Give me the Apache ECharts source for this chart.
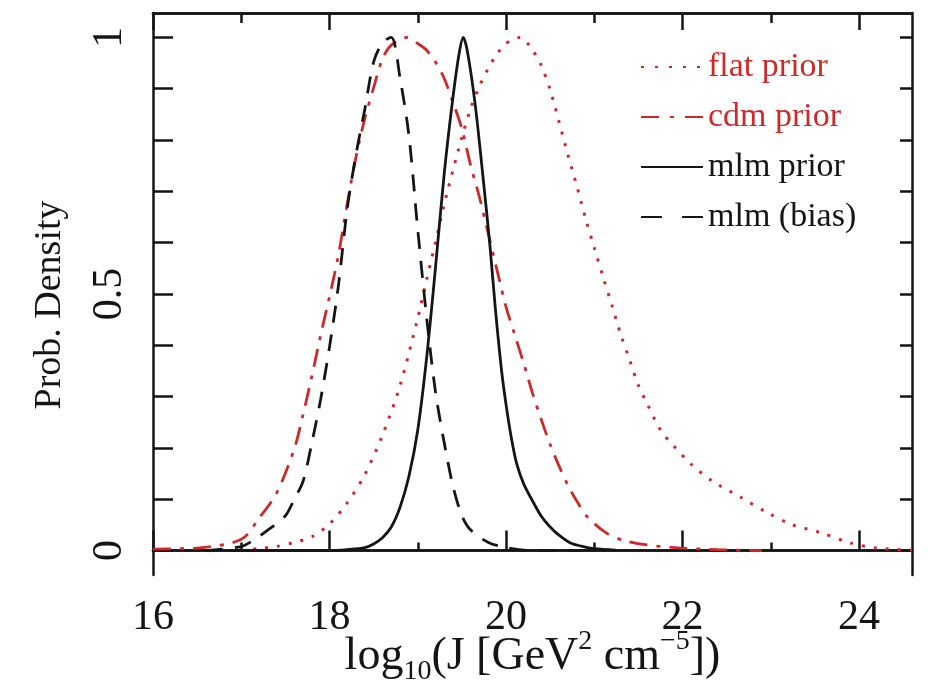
<!DOCTYPE html>
<html><head><meta charset="utf-8">
<script src="https://cdn.jsdelivr.net/npm/echarts@6/dist/echarts.min.js"></script>
<style>html,body{margin:0;padding:0;background:#fff}#c{width:930px;height:685px}</style>
</head><body><div id="c"></div>
<script>
// ---- data ----
const seriesNames = ['flat prior', 'cdm prior', 'mlm prior', 'mlm (bias)'];

const flatX = [17.0,17.2,17.4,17.6,17.8,18.0,18.2,18.4,18.6,18.8,19.0,19.1,19.2,19.3,19.4,19.5,19.6,19.7,19.8,19.9,20.0,20.16,20.3,20.4,20.5,20.6,20.7,20.8,20.9,21.0,21.1,21.2,21.3,21.4,21.5,21.6,21.75,21.9,22.1,22.35,22.65,22.95,23.25,23.55,23.9,24.2,24.6];
const flatY = [0.0,0.004,0.008,0.016,0.027,0.052,0.093,0.148,0.225,0.322,0.453,0.528,0.60,0.675,0.742,0.805,0.862,0.905,0.94,0.968,0.988,1.0,0.975,0.945,0.898,0.836,0.772,0.712,0.648,0.59,0.533,0.478,0.421,0.372,0.322,0.286,0.235,0.204,0.168,0.134,0.105,0.075,0.05,0.036,0.015,0.005,0.001];

const cdmX = [16.0,16.5,17.0,17.2,17.4,17.6,17.7,17.8,17.9,18.0,18.1,18.2,18.3,18.4,18.5,18.6,18.7,18.88,19.0,19.1,19.2,19.3,19.4,19.5,19.6,19.7,19.8,19.9,20.0,20.1,20.2,20.3,20.4,20.5,20.6,20.7,20.8,20.92,21.14,21.33,21.6,21.98,22.4,22.9];
const cdmY = [0.003,0.005,0.022,0.063,0.112,0.198,0.265,0.34,0.42,0.495,0.575,0.675,0.767,0.842,0.902,0.958,0.985,1.0,0.988,0.975,0.952,0.92,0.873,0.822,0.75,0.688,0.617,0.545,0.475,0.42,0.365,0.307,0.255,0.207,0.165,0.128,0.097,0.066,0.034,0.02,0.011,0.005,0.002,0.0];

const mlmX = [16.85,18.0,18.2,18.4,18.5,18.6,18.7,18.8,18.9,19.0,19.1,19.2,19.3,19.4,19.47,19.515,19.56,19.65,19.75,19.82,19.88,19.95,20.0,20.06,20.12,20.2,20.3,20.4,20.5,20.6,20.73,20.9,21.0,21.24];
const mlmY = [0.0,0.0,0.002,0.006,0.013,0.025,0.046,0.085,0.145,0.235,0.375,0.55,0.735,0.885,0.97,1.0,0.975,0.87,0.71,0.59,0.47,0.35,0.285,0.22,0.17,0.13,0.097,0.067,0.046,0.03,0.015,0.007,0.004,0.001];

const biasX = [16.6,17.0,17.134,17.3,17.5,17.6,17.7,17.8,17.9,18.0,18.1,18.2,18.3,18.4,18.5,18.6,18.7,18.8,18.9,19.0,19.1,19.2,19.3,19.4,19.5,19.6,19.8,20.0,20.3,20.87];
const biasY = [0.0,0.008,0.02,0.04,0.068,0.1,0.135,0.21,0.295,0.397,0.515,0.665,0.772,0.86,0.952,0.99,1.0,0.92,0.808,0.625,0.455,0.31,0.21,0.125,0.068,0.04,0.016,0.006,0.0,0.0];

const xMajorTicks = [16, 18, 20, 22, 24];
const xMinorTicks = [17, 19, 21, 23];
const yTicks = [0, 0.1, 0.2, 0.3, 0.4, 0.5, 0.6, 0.7, 0.8, 0.9, 1];
const yLabels = [0, 0.5, 1];

// ---- chart ----
const FONT = "'Liberation Serif', 'Times New Roman', serif";
const INK = '#151515';
const RED = '#cc2a2a';
const pairs = (xs, ys) => xs.map((x, i) => [x, ys[i]]);

const baseX = { type: 'value', min: 16, max: 24.6, splitLine: { show: false },
  axisLine: { show: true, lineStyle: { color: INK, width: 2.5 } } };
const baseY = { type: 'value', min: -0.0475, max: 1.0475, splitLine: { show: false },
  axisLine: { show: true, lineStyle: { color: INK, width: 2.5 } } };

const chart = echarts.init(document.getElementById('c'), null, { renderer: 'canvas' });
chart.setOption({
  backgroundColor: '#fff',
  animation: false,
  textStyle: { fontFamily: FONT },
  grid: { left: 153, top: 13, right: 18, bottom: 110, containLabel: false, outerBoundsMode: 'none' },
  legend: {
    orient: 'vertical', left: 635, top: 45, itemWidth: 62, itemHeight: 14, itemGap: 16,
    itemStyle: { opacity: 0 },
    data: [
      { name: seriesNames[0], textStyle: { color: RED, fontFamily: FONT, fontSize: 34 },
        lineStyle: { type: [3, 11] } },
      { name: seriesNames[1], textStyle: { color: RED, fontFamily: FONT, fontSize: 34 },
        lineStyle: { type: [18, 11, 4, 11] } },
      { name: seriesNames[2], textStyle: { color: INK, fontFamily: FONT, fontSize: 34 } },
      { name: seriesNames[3], textStyle: { color: INK, fontFamily: FONT, fontSize: 34 },
        lineStyle: { type: [21, 20] } }
    ],
    textStyle: { fontFamily: FONT, fontSize: 34, lineHeight: 34 }
  },
  xAxis: [
    Object.assign({}, baseX, {
      position: 'bottom',
      axisTick: { show: true, inside: true, length: 20, customValues: xMajorTicks, lineStyle: { color: INK, width: 2.5 } },
      axisLabel: { show: true, customValues: xMajorTicks, fontFamily: FONT, fontSize: 42, color: INK, margin: 22 },
      name: '{a|log}{s|10}{a|(J [GeV}{p|2}{a| cm}{p|−5}{a|])}',
      nameLocation: 'middle', nameGap: 53, nameMoveOverlap: false,
      nameTextStyle: { fontFamily: FONT, fontSize: 46, color: INK,
        rich: {
          a: { fontFamily: FONT, fontSize: 46, color: INK, lineHeight: 46 },
          s: { fontFamily: FONT, fontSize: 28, color: INK, lineHeight: 58, verticalAlign: 'bottom' },
          p: { fontFamily: FONT, fontSize: 28, color: INK, verticalAlign: 'top' }
        } }
    }),
    Object.assign({}, baseX, {
      position: 'bottom',
      axisTick: { show: true, inside: true, length: 8, customValues: xMinorTicks, lineStyle: { color: INK, width: 2.5 } },
      axisLabel: { show: false }
    }),
    Object.assign({}, baseX, {
      position: 'top',
      axisTick: { show: true, inside: true, length: 17, customValues: xMajorTicks, lineStyle: { color: INK, width: 2.5 } },
      axisLabel: { show: false }
    }),
    Object.assign({}, baseX, {
      position: 'top',
      axisTick: { show: true, inside: true, length: 10, customValues: xMinorTicks, lineStyle: { color: INK, width: 2.5 } },
      axisLabel: { show: false }
    })
  ],
  yAxis: [
    Object.assign({}, baseY, {
      position: 'left',
      axisTick: { show: true, inside: true, length: 20, customValues: yTicks, lineStyle: { color: INK, width: 2.5 } },
      axisLabel: { show: true, customValues: yLabels, rotate: 90, fontFamily: FONT, fontSize: 42, color: INK, margin: 22 },
      name: 'Prob. Density', nameLocation: 'middle', nameGap: 84, nameRotate: 90, nameMoveOverlap: false,
      nameTextStyle: { fontFamily: FONT, fontSize: 38, color: INK, padding: [0, 22, 0, 0] }
    }),
    Object.assign({}, baseY, {
      position: 'right',
      axisTick: { show: true, inside: true, length: 12, customValues: yTicks, lineStyle: { color: INK, width: 2.5 } },
      axisLabel: { show: false }
    })
  ],
  series: [
    { name: seriesNames[0], type: 'line', data: pairs(flatX, flatY), smooth: 0.3, symbol: 'none', showSymbol: false,
      lineStyle: { color: RED, width: 3, type: [3, 9] }, itemStyle: { color: RED }, z: 3 },
    { name: seriesNames[1], type: 'line', data: pairs(cdmX, cdmY), smooth: 0.3, symbol: 'none', showSymbol: false,
      lineStyle: { color: RED, width: 2.8, type: [18, 9, 4, 9] }, itemStyle: { color: RED }, z: 3 },
    { name: seriesNames[2], type: 'line', data: pairs(mlmX, mlmY), smooth: 0.3, symbol: 'none', showSymbol: false,
      lineStyle: { color: INK, width: 2.8, type: 'solid' }, itemStyle: { color: INK }, z: 4 },
    { name: seriesNames[3], type: 'line', data: pairs(biasX, biasY), smooth: 0.3, symbol: 'none', showSymbol: false,
      lineStyle: { color: INK, width: 2.8, type: [17, 12] }, itemStyle: { color: INK }, z: 4 }
  ]
});
</script>
</body></html>
